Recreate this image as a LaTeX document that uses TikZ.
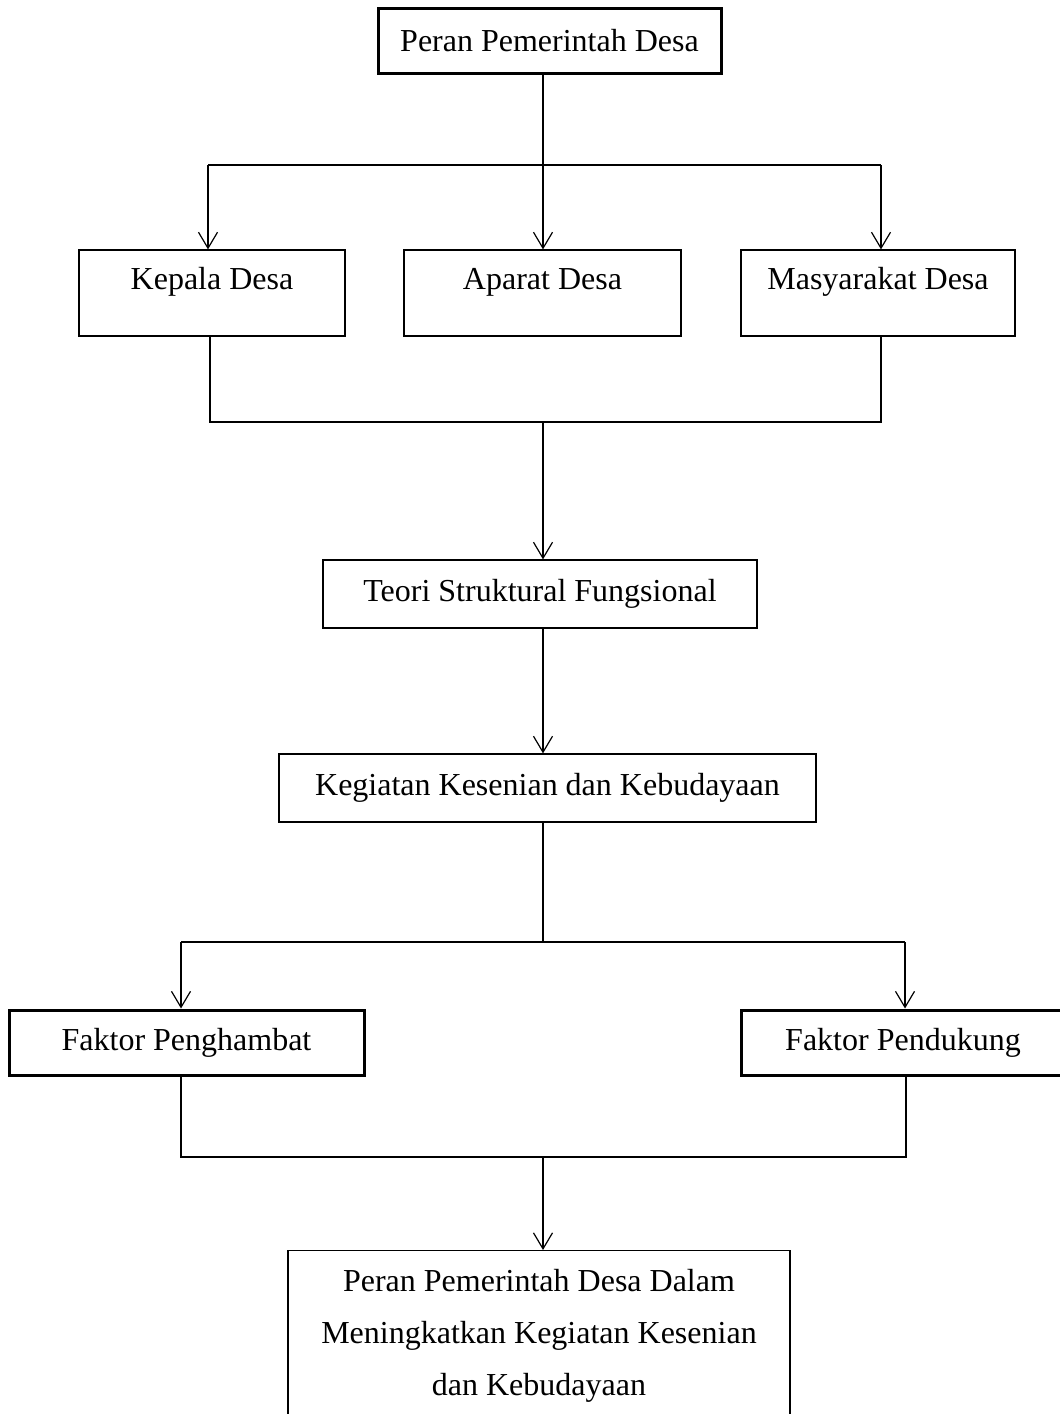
\documentclass[tikz,border=0pt]{standalone}
\usepackage{fontspec}
\setmainfont{Liberation Serif}
\usetikzlibrary{arrows.meta}

\begin{document}
\begin{tikzpicture}[
  x=0.5pt, y=-0.5pt,
  font=\fontsize{16}{26}\selectfont,
  box/.style={draw=black, line width=0.6pt, align=center, inner sep=4pt, minimum height=34pt},
  boldbox/.style={box, line width=1.5pt, minimum height=32.5pt},
  highbox/.style={box, minimum height=0pt, text height=15.5pt, text depth=19.5pt},
  arr/.style={-{Straight Barb[length=8pt, width=9.5pt]}, line width=0.6pt},
  link/.style={line width=0.6pt},
]
\useasboundingbox (0,0) rectangle (1060,1414);
% boxes
\node[boldbox, minimum width=171.5pt] (peran) at (549.5,40.5) {Peran Pemerintah Desa};
\node[highbox, minimum width=133pt] (kepala) at (212,293) {Kepala Desa};
\node[highbox, minimum width=138.5pt] (aparat) at (542.5,293) {Aparat Desa};
\node[highbox, minimum width=137pt] (masy) at (878,293) {Masyarakat Desa};
\node[box, minimum width=217pt] (teori) at (540,594) {Teori Struktural Fungsional};
\node[box, minimum width=268.5pt] (kegiatan) at (547.5,788) {Kegiatan Kesenian dan Kebudayaan};
\node[boldbox, minimum width=177.5pt] (hambat) at (186.5,1042.5) {Faktor Penghambat};
\node[boldbox, minimum width=162pt] (dukung) at (903,1042.5) {Faktor Pendukung};
\node[box, anchor=north, minimum width=251pt, inner ysep=9.5pt] (hasil) at (539,1250)
  {Peran Pemerintah Desa Dalam\\Meningkatkan Kegiatan Kesenian\\dan Kebudayaan};
% junctions
\coordinate (s1) at (543,165);
\coordinate (l1) at (208,165);
\coordinate (r1) at (881,165);
\coordinate (s2) at (543,422);
\coordinate (l2) at (210,422);
\coordinate (r2) at (881,422);
\coordinate (s3) at (543,942);
\coordinate (l3) at (181,942);
\coordinate (r3) at (905,942);
\coordinate (s4) at (543,1157);
\coordinate (l4) at (181,1157);
\coordinate (r4) at (906,1157);
% connectors
\draw[link] (peran.south -| s1) -- (s1);
\draw[link] (l1) -- (r1);
\draw[arr] (l1) -- (l1 |- kepala.north);
\draw[arr] (s1) -- (s1 |- aparat.north);
\draw[arr] (r1) -- (r1 |- masy.north);
\draw[link] (kepala.south -| l2) -- (l2) -- (r2) -- (masy.south -| r2);
\draw[arr] (s2) -- (s2 |- teori.north);
\draw[arr] (teori.south -| s2) -- (s2 |- kegiatan.north);
\draw[link] (kegiatan.south -| s3) -- (s3);
\draw[link] (l3) -- (r3);
\draw[arr] (l3) -- (l3 |- hambat.north);
\draw[arr] (r3) -- (r3 |- dukung.north);
\draw[link] (hambat.south -| l4) -- (l4) -- (r4) -- (dukung.south -| r4);
\draw[arr] (s4) -- (s4 |- hasil.north);
\end{tikzpicture}
\end{document}
